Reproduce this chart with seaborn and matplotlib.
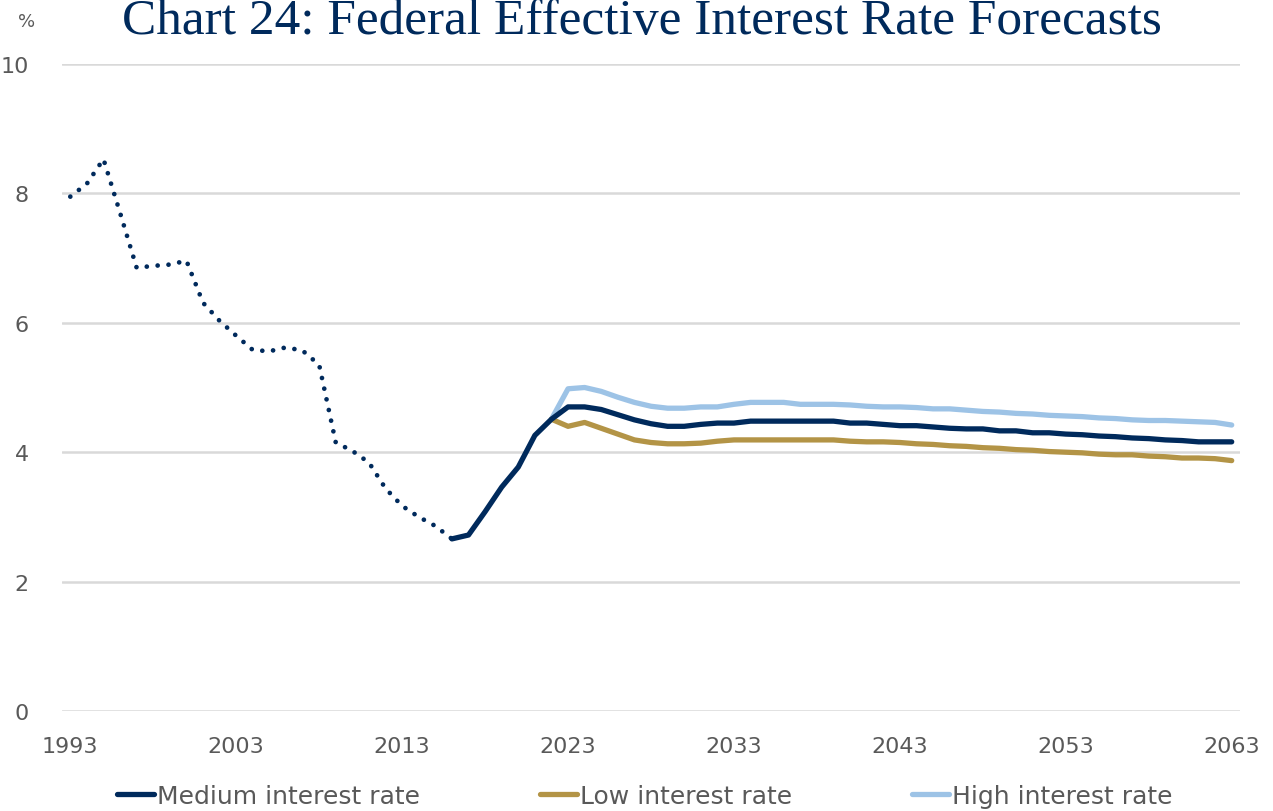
import numpy as np
import pandas as pd
import matplotlib
matplotlib.use("Agg")
import matplotlib.pyplot as plt
import seaborn as sns
from matplotlib.lines import Line2D

hist_years = list(range(1993, 2017))
hist_values = [7.95, 8.15, 8.53, 7.70, 6.85, 6.88, 6.90, 6.96, 6.31, 6.03,
               5.80, 5.58, 5.56, 5.62, 5.57, 5.35, 4.15, 4.02, 3.84, 3.44,
               3.17, 3.00, 2.86, 2.66]

medium_years = list(range(2016, 2064))
medium_values = [2.66, 2.72, 3.08, 3.46, 3.77, 4.26, 4.51, 4.70, 4.70, 4.66,
                 4.58, 4.50, 4.44, 4.40, 4.40, 4.43, 4.45, 4.45, 4.48, 4.48,
                 4.48, 4.48, 4.48, 4.48, 4.45, 4.45, 4.43, 4.41, 4.41, 4.39,
                 4.37, 4.36, 4.36, 4.33, 4.33, 4.30, 4.30, 4.28, 4.27, 4.25,
                 4.24, 4.22, 4.21, 4.19, 4.18, 4.16, 4.16, 4.16]

scen_years = list(range(2022, 2064))
low_values = [4.51, 4.40, 4.46, 4.37, 4.28, 4.19, 4.15, 4.13, 4.13, 4.14,
              4.17, 4.19, 4.19, 4.19, 4.19, 4.19, 4.19, 4.19, 4.17, 4.16,
              4.16, 4.15, 4.13, 4.12, 4.10, 4.09, 4.07, 4.06, 4.04, 4.03,
              4.01, 4.00, 3.99, 3.97, 3.96, 3.96, 3.94, 3.93, 3.91, 3.91,
              3.90, 3.87]
high_values = [4.51, 4.98, 5.00, 4.94, 4.85, 4.77, 4.71, 4.68, 4.68, 4.70,
               4.70, 4.74, 4.77, 4.77, 4.77, 4.74, 4.74, 4.74, 4.73, 4.71,
               4.70, 4.70, 4.69, 4.67, 4.67, 4.65, 4.63, 4.62, 4.60, 4.59,
               4.57, 4.56, 4.55, 4.53, 4.52, 4.50, 4.49, 4.49, 4.48, 4.47,
               4.46, 4.42]

series_labels = ["Medium interest rate", "Low interest rate", "High interest rate"]
tick_years = list(range(1993, 2064, 10))
y_ticks = [0, 2, 4, 6, 8, 10]

NAVY = "#002A5C"
GOLD = "#B39446"
LIGHT = "#9DC3E6"
GREY = "#595959"

sns.set_theme(style="white")
plt.rcParams["font.family"] = ["DejaVu Sans"]

fig = plt.figure(figsize=(12.73, 8.12), dpi=100)
ax = fig.add_axes([62 / 1273, 1 - 712 / 812, (1240 - 62) / 1273, (712 - 65) / 812])

hist_df = pd.DataFrame({"year": hist_years, "rate": hist_values})
med_df = pd.DataFrame({"year": medium_years, "rate": medium_values})
low_df = pd.DataFrame({"year": scen_years, "rate": low_values})
high_df = pd.DataFrame({"year": scen_years, "rate": high_values})

for v in y_ticks:
    ax.axhline(v, color="#D9D9D9", lw=1.8, zorder=0)

sns.lineplot(data=hist_df, x="year", y="rate", ax=ax, color=NAVY, lw=3.4,
             dashes=False, zorder=3, clip_on=False)
hl = ax.get_lines()[-1]
hl.set_linestyle((0, (0.01, 2.3)))
hl.set_dash_capstyle("round")

sns.lineplot(data=high_df, x="year", y="rate", ax=ax, color=LIGHT, lw=3.8,
             zorder=2, clip_on=False, solid_capstyle="round")
sns.lineplot(data=low_df, x="year", y="rate", ax=ax, color=GOLD, lw=3.8,
             zorder=2, clip_on=False, solid_capstyle="round")
sns.lineplot(data=med_df, x="year", y="rate", ax=ax, color=NAVY, lw=3.8,
             zorder=4, clip_on=False, solid_capstyle="round")

ax.set_xlim(1992.5, 2063.5)
ax.set_ylim(0, 10)
ax.set_xticks(tick_years)
ax.set_xticklabels([str(t) for t in tick_years])
ax.set_yticks(y_ticks)
ax.set_yticklabels([str(t) for t in y_ticks])
ax.tick_params(axis="both", length=0, labelsize=16, labelcolor=GREY)
ax.tick_params(axis="y", pad=24)
ax.tick_params(axis="x", pad=18)
ax.set_xlabel("")
ax.set_ylabel("")
for s in ax.spines.values():
    s.set_visible(False)
ax.grid(False)

fig.text(27 / 1273, 1 - 22 / 812, "%", ha="center", va="center",
         fontsize=13, color=GREY)
fig.text(642 / 1273, 1 - 34 / 812,
         "Chart 24: Federal Effective Interest Rate Forecasts",
         ha="center", va="baseline", fontsize=37, color=NAVY,
         family=["Liberation Serif", "DejaVu Serif"])

handles = [Line2D([0], [0], color=c, lw=3.8, solid_capstyle="round")
           for c in (NAVY, GOLD, LIGHT)]
leg = fig.legend(handles, series_labels, loc="center", ncol=3,
                 bbox_to_anchor=(645 / 1273, 1 - 797 / 812), frameon=False,
                 fontsize=18, handlelength=1.48, handletextpad=0.12,
                 columnspacing=4.8, borderaxespad=0)
for t in leg.get_texts():
    t.set_color(GREY)

fig.savefig("out.png", dpi=100)
